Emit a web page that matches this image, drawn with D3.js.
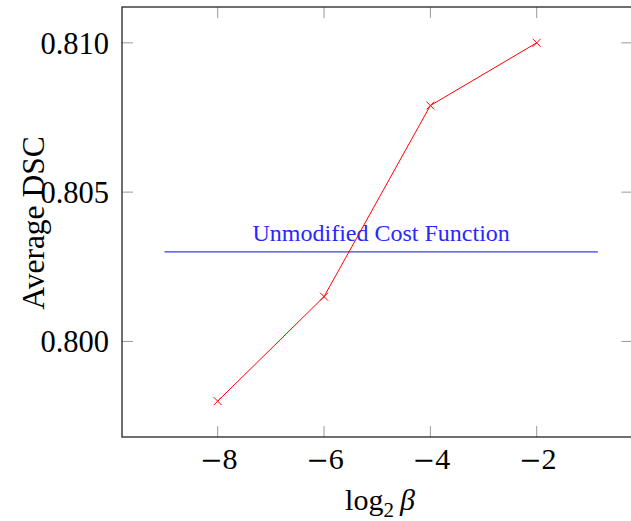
<!DOCTYPE html>
<html>
<head>
<meta charset="utf-8">
<script src="https://cdn.jsdelivr.net/npm/d3@7/dist/d3.min.js"></script>
<style>
  body { margin: 0; background: #fff; }
  svg text { font-family: "Liberation Serif", "DejaVu Serif", serif; }
</style>
</head>
<body>
<svg></svg>
<script>
// data
const logBeta = [-8, -6, -4, -2];
const avgDsc = [0.798, 0.8015, 0.8079, 0.810];
const baselineX = [-9, -0.85];
const baselineDsc = 0.803;
const xTicks = [-8, -6, -4, -2];
const yTicks = [0.800, 0.805, 0.810];

function drawChart() {
    const width = 631;
    const height = 521;
    const left = 122, top = 7, right = 632.4, bottom = 437;

    const svg = d3.select('svg')
        .attr('width', width)
        .attr('height', height);

    const xScale = d3.scaleLinear()
        .domain([-9.8, -0.2])
        .range([left, right]);
    const yScale = d3.scaleLinear()
        .domain([0.7968, 0.8112])
        .range([bottom, top]);

    // ticks, drawn inward on all four sides
    const tickLen = 11;
    const ticks = svg.append('g')
        .attr('stroke', '#999')
        .attr('stroke-width', 1);
    xTicks.forEach(t => {
        ticks.append('line')
            .attr('x1', xScale(t)).attr('x2', xScale(t))
            .attr('y1', bottom).attr('y2', bottom - tickLen);
        ticks.append('line')
            .attr('x1', xScale(t)).attr('x2', xScale(t))
            .attr('y1', top).attr('y2', top + tickLen);
    })
    yTicks.forEach(t => {
        ticks.append('line')
            .attr('x1', left).attr('x2', left + tickLen)
            .attr('y1', yScale(t)).attr('y2', yScale(t));
        ticks.append('line')
            .attr('x1', right).attr('x2', right - tickLen)
            .attr('y1', yScale(t)).attr('y2', yScale(t));
    })

    // frame
    svg.append('rect')
        .attr('x', left).attr('y', top)
        .attr('width', right - left).attr('height', bottom - top)
        .attr('fill', 'none')
        .attr('stroke', '#222')
        .attr('stroke-width', 1.3);

    // tick labels
    const xt = svg.append('g')
        .selectAll('text')
        .data(xTicks)
        .enter()
        .append('text')
        .attr('x', (d) => xScale(d) + 1)
        .attr('y', 469)
        .attr('text-anchor', 'middle')
        .attr('font-size', 30);
    xt.append('tspan')
        .attr('font-family', 'DejaVu Serif')
        .attr('font-size', 27)
        .text('\u2212');
    xt.append('tspan').attr('dx', 0).text((d) => Math.abs(d));

    svg.append('g')
        .selectAll('text')
        .data(yTicks)
        .enter()
        .append('text')
        .attr('x', 109)
        .attr('y', (d) => yScale(d) + 11)
        .attr('text-anchor', 'end')
        .attr('font-size', 30.5)
        .text((d) => d3.format('.3f')(d));

    // axis labels
    svg.append('text')
        .attr('transform', 'translate(44, 223) rotate(-90)')
        .attr('text-anchor', 'middle')
        .attr('font-size', 31.5)
        .text('Average DSC');

    const xl = svg.append('text')
        .attr('x', 380)
        .attr('y', 510)
        .attr('text-anchor', 'middle')
        .attr('font-size', 30);
    xl.append('tspan').text('log');
    xl.append('tspan').attr('font-size', 21).attr('dy', 7).text('2');
    xl.append('tspan').attr('dy', -7).attr('dx', 6).attr('font-style', 'italic').text('\u03b2');

    // baseline
    svg.append('line')
        .attr('x1', xScale(baselineX[0])).attr('x2', xScale(baselineX[1]))
        .attr('y1', yScale(baselineDsc)).attr('y2', yScale(baselineDsc))
        .attr('stroke', '#3b3bff')
        .attr('stroke-width', 1.4);
    svg.append('text')
        .attr('x', xScale((baselineX[0] + baselineX[1]) / 2))
        .attr('y', yScale(baselineDsc) - 11)
        .attr('text-anchor', 'middle')
        .attr('font-size', 24)
        .attr('fill', '#2828ff')
        .text('Unmodified Cost Function');

    // series
    const pts = logBeta.map((b, i) => [b, avgDsc[i]]);
    svg.append('path')
        .datum(pts)
        .attr('d', d3.line().x((d) => xScale(d[0])).y((d) => yScale(d[1])))
        .attr('fill', 'none')
        .attr('stroke', 'red')
        .attr('stroke-width', 1);

    const m = 4;
    svg.append('g')
        .selectAll('path')
        .data(pts)
        .enter()
        .append('path')
        .attr('d', (d) => {
            const x = xScale(d[0]), y = yScale(d[1]);
            return `M${x - m},${y - m}L${x + m},${y + m}M${x - m},${y + m}L${x + m},${y - m}`;
        })
        .attr('stroke', 'red')
        .attr('stroke-width', 1);
}

drawChart();
</script>
</body>
</html>
